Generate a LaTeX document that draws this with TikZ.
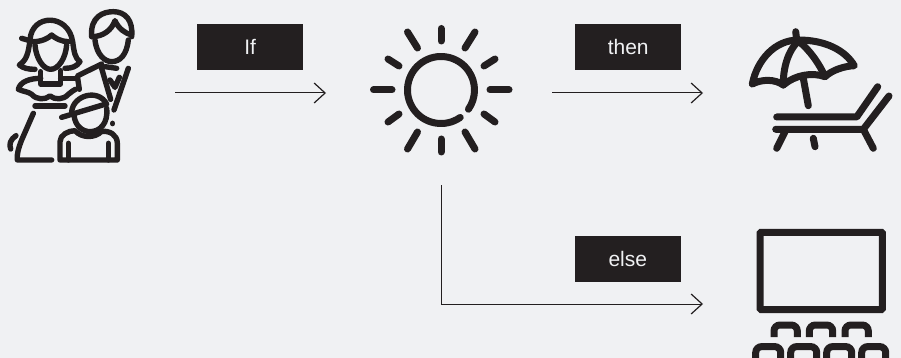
\documentclass[tikz,border=0pt]{standalone}
\usepackage{fontspec}
\setmainfont{Liberation Sans}
\usetikzlibrary{arrows.meta,positioning}
\definecolor{ink}{RGB}{35,31,32}
\definecolor{paper}{RGB}{240,241,243}

\begin{document}
\begin{tikzpicture}[
x=1pt, y=-1pt,
tag/.style={rectangle, fill=ink, text=paper, minimum width=106pt, minimum height=46pt, inner sep=0pt, align=center, font=\fontsize{21}{24}\selectfont},
slot/.style={rectangle, inner sep=0pt, outer sep=0pt},
flow/.style={draw=ink, line width=1pt, -{Straight Barb[length=11pt,width=20pt,line width=1.2pt]}},
icon/.style={draw=ink, line width=7pt, line cap=round, line join=round},
thinicon/.style={draw=ink, line width=5.4pt, line cap=round, line join=round}
]
\path[use as bounding box, fill=paper] (0,0) rectangle (901,358);

\node[slot, minimum width=175pt, minimum height=184pt] (family) at (87.5,93) {};
\node[slot, minimum width=226pt, minimum height=184pt, right=151pt of family] (sun) {};
\node[slot, minimum width=198pt, minimum height=100pt, right=151pt of sun] (lounger) {};
\node[slot, minimum width=198pt, minimum height=60pt, below=131pt of lounger] (cinema) {};

\node[tag, above right=23pt and 22pt of family.east] (iftag) {If};
\node[tag, above right=23pt and 23pt of sun.east] (thentag) {then};
\node[tag, above left=22pt and 22pt of cinema.west] (elsetag) {else};

\draw[flow] (family.east) -- (sun.west);
\draw[flow] (sun.east) -- (lounger.west);
\draw[flow] ([xshift=2pt]sun.south) |- (cinema.west);

% sun
\draw[icon] (441,90) ++(55:33.5) arc[start angle=55, end angle=395, radius=33.5];
\foreach \xa/\ya/\xb/\yb in {441/28.5/441/41, 441/139/441/152, 373.5/90/392/90, 490/90/509/90,
  407.5/32/417.5/48, 475/32/465/48, 407.5/149/417.5/132, 475/149/465/132,
  388/59/399/66, 495/59/484/66, 388/122/399/114, 495/122/484/114}
  \draw[icon] (\xa,\ya) -- (\xb,\yb);

% lounger
\draw[icon] (795.7,31.7) -- (796.7,40);
\draw[icon] (752.3,84) .. controls (757,60) and (775,40) .. (798.3,40)
  .. controls (825,40) and (845,50) .. (854.3,65.7)
  .. controls (845,66) and (832,70) .. (825,76.7)
  .. controls (812,72) and (795,75) .. (783.3,85)
  .. controls (775,79) and (762,79) .. (752.3,84);
\draw[icon] (798.3,41) .. controls (787,52) and (783,70) .. (783.3,85);
\draw[icon] (798.3,41) .. controls (810,50) and (820,65) .. (825,76.7);
\draw[icon] (803.3,78.3) -- (808.3,105.7);
\draw[icon] (776.7,117) -- (856.7,117) -- (877.7,86.7);
\draw[icon] (775.7,129.3) -- (863.3,129.3) -- (889,96);
\draw[icon] (785,131.7) -- (776.7,148.3);
\draw[icon] (863.3,129.3) -- (873.3,148.3);
\draw[icon] (813.3,138.3) -- (815,146.7);

% cinema
\draw[draw=ink, line width=7pt, rounded corners=1pt] (760,232.3) rectangle (882.4,309.5);
\foreach \xa/\xb in {774/797.3, 809.3/832.7, 845/868.3}
  \draw[draw=ink, line width=7pt, rounded corners=6pt] (\xa,337) -- (\xa,325) -- (\xb,325) -- (\xb,337);
\foreach \xa/\xb in {755.7/780.7, 790.7/816.7, 826.7/851.7, 861.7/885.7}
  \draw[draw=ink, line width=7pt, rounded corners=6pt] (\xa,358) -- (\xa,346.6) -- (\xb,346.6) -- (\xb,358);

% family
\begin{scope}[x=0.3333pt, y=-0.3333pt]
\draw[thinicon] (65,115) -- (100,125) .. controls (125,125) and (145,115) .. (155,105)
  .. controls (165,115) and (185,125) .. (205,125);
\draw[thinicon] (90,120) .. controls (95,40) and (205,40) .. (218,125)
  .. controls (222,155) and (225,175) .. (240,185) .. controls (230,200) and (215,205) .. (195,205);
\draw[thinicon] (90,120) .. controls (85,160) and (80,180) .. (58,195) .. controls (70,205) and (85,208) .. (105,208);
\draw[thinicon] (105,135) .. controls (108,175) and (130,208) .. (152,208) .. controls (175,208) and (197,175) .. (200,135);
\draw[thinicon] (122,215) -- (122,252) -- (182,252) -- (182,212);
\draw[thinicon] (122,235) .. controls (90,235) and (60,245) .. (55,268) .. controls (70,275) and (85,275) .. (95,283)
  .. controls (110,300) and (135,300) .. (150,288) .. controls (165,300) and (190,300) .. (205,283) .. controls (212,275) and (222,272) .. (226,268);
\draw[thinicon] (182,235) -- (232,235);
\draw[thinicon] (105,318) -- (195,318);
\draw[thinicon] (100,340) -- (65,420) .. controls (55,445) and (50,465) .. (52,480) -- (155,480);
\draw[thinicon] (48,407) .. controls (32,418) and (26,432) .. (32,447);
\draw[thinicon] (275,110) .. controls (270,50) and (310,35) .. (340,35) .. controls (375,35) and (400,60) .. (395,110);
\draw[thinicon] (275,110) .. controls (310,110) and (335,90) .. (345,62) .. controls (355,85) and (375,100) .. (395,105);
\draw[thinicon] (285,120) .. controls (290,165) and (315,185) .. (335,185) .. controls (360,185) and (380,165) .. (385,120);
\draw[thinicon] (315,200) -- (350,205);
\draw[thinicon] (305,192) -- (232,228) -- (238,268);
\draw[thinicon] (302,195) -- (332,298);
\draw[thinicon] (385,205) -- (342,330);
\draw[thinicon] (330,240) -- (345,262) -- (358,232);
\draw[thinicon] (215,335) .. controls (220,285) and (295,265) .. (320,312);
\draw[thinicon] (185,352) -- (318,312);
\draw[thinicon] (222,345) .. controls (225,380) and (250,395) .. (270,395) .. controls (300,395) and (325,370) .. (320,325);
\draw[thinicon] (338,370) -- (338,371);
\draw[thinicon] (180,480) -- (180,425) .. controls (180,405) and (205,392) .. (225,392)
  .. controls (245,415) and (285,415) .. (305,394) .. controls (330,392) and (352,405) .. (352,430) -- (352,480) -- (180,480);
\draw[thinicon] (205,430) -- (205,480);
\draw[thinicon] (325,430) -- (325,480);
\end{scope}
\end{tikzpicture}
\end{document}
